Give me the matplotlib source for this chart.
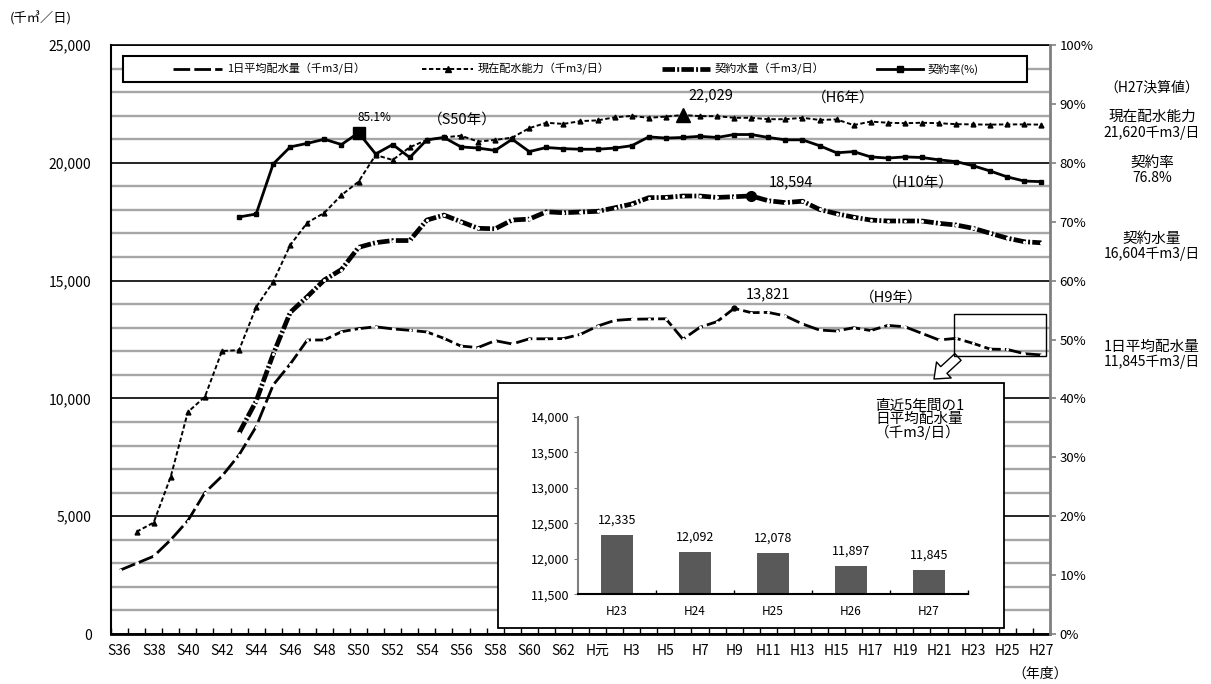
import numpy as np
import matplotlib
matplotlib.use("Agg")
import matplotlib.pyplot as plt
from matplotlib.patches import Rectangle
from matplotlib.lines import Line2D
from matplotlib.ticker import FuncFormatter, MultipleLocator

plt.rcParams['font.family'] = ['Noto Sans CJK JP', 'DejaVu Sans']
plt.rcParams['lines.scale_dashes'] = False

nan = np.nan

# 年度 S36(1961) ～ H27(2015)
years = [f"S{n}" for n in range(36, 64)] + ["H元"] + [f"H{n}" for n in range(2, 28)]

# 1日平均配水量（千m3/日）
avg_flow = [2700, 3000, 3300, 4000, 4810, 6000, 6700, 7600, 8800, 10570,
            11460, 12480, 12480, 12830, 12960, 13040, 12950, 12890, 12820, 12550,
            12220, 12160, 12450, 12310, 12530, 12530, 12540, 12720, 13070, 13310,
            13360, 13370, 13380, 12510, 13020, 13260, 13821, 13640, 13650, 13500,
            13160, 12900, 12860, 13000, 12880, 13100, 13040, 12760, 12480, 12550,
            12335, 12092, 12078, 11897, 11845]

# 現在配水能力（千m3/日）
capacity = [nan, 4340, 4730, 6680, 9420, 10070, 12010, 12050, 13870, 14950,
            16510, 17460, 17880, 18630, 19200, 20330, 20120, 20660, 20970, 21080,
            21150, 20900, 20970, 21070, 21470, 21700, 21650, 21770, 21800, 21930,
            21990, 21910, 21960, 22029, 21980, 21980, 21910, 21910, 21850, 21850,
            21910, 21820, 21840, 21600, 21750, 21700, 21680, 21700, 21680, 21640,
            21630, 21620, 21630, 21630, 21620]

# 契約水量（千m3/日）
contract = [nan, nan, nan, nan, nan, nan, nan, 8530, 9880, 11880,
            13650, 14320, 15030, 15470, 16410, 16610, 16700, 16700, 17570, 17780,
            17500, 17220, 17200, 17570, 17610, 17920, 17880, 17910, 17940, 18090,
            18250, 18520, 18530, 18590, 18590, 18530, 18560, 18594, 18390, 18310,
            18370, 18020, 17840, 17690, 17570, 17530, 17530, 17530, 17430, 17360,
            17220, 17010, 16800, 16650, 16604]

# 契約率（%）
rate = [nan, nan, nan, nan, nan, nan, nan, 70.8, 71.3, 79.8,
        82.7, 83.3, 84.0, 83.1, 85.1, 81.5, 83.1, 80.9, 83.9, 84.3,
        82.7, 82.5, 82.1, 84.0, 81.9, 82.6, 82.4, 82.3, 82.3, 82.5,
        82.9, 84.4, 84.2, 84.3, 84.5, 84.3, 84.8, 84.8, 84.3, 83.9,
        83.9, 82.9, 81.7, 81.9, 81.0, 80.8, 81.0, 80.9, 80.5, 80.2,
        79.5, 78.6, 77.6, 76.9, 76.8]

# 直近5年間の1日平均配水量
recent_years = ["H23", "H24", "H25", "H26", "H27"]
recent_flow = [12335, 12092, 12078, 11897, 11845]

W, H = 1211, 684


def fx(px):
    return px / W


def fy(py):
    return 1 - py / H


fig = plt.figure(figsize=(W / 100, H / 100), dpi=100)
ax = fig.add_axes([fx(111), fy(634), fx(1050) - fx(111), fy(45) - fy(634)])
ax2 = ax.twinx()

x = np.arange(len(years))

# 系列のスタイル
st_avg = dict(color='black', lw=2.0, dashes=(12, 3), marker='o', ms=2.2,
              mfc='white', mec='white', mew=0)
st_cap = dict(color='black', lw=1.4, dashes=(3.2, 1.8), marker='^', ms=3.5,
              mfc='black', mec='black')
st_con = dict(color='black', lw=3.4, dashes=(9, 1.6, 1.4, 1.6), marker='o', ms=2.2,
              mfc='white', mec='white', mew=0)
st_rate = dict(color='black', lw=2.0, linestyle='-', marker='s', ms=3.2,
               mfc='black', mec='black')

ax.plot(x, avg_flow, zorder=4, **st_avg)
ax.plot(x, capacity, zorder=4, **st_cap)
ax.plot(x, contract, zorder=4, **st_con)
ax2.plot(x, rate, zorder=4, **st_rate)

# 最大値の強調
i_rate, i_cap, i_con, i_avg = 14, 33, 37, 36
ax2.plot(i_rate, rate[i_rate], 's', ms=9, color='black', zorder=5)
ax.plot(i_cap, capacity[i_cap], '^', ms=10, color='black', zorder=5)
ax.plot(i_con, contract[i_con], 'o', ms=7, color='black', zorder=5)
ax.plot(i_avg, avg_flow[i_avg], 'o', ms=3.5, color='black', zorder=5)

ax2.annotate(f"{rate[i_rate]}%", (i_rate, rate[i_rate]), xytext=(16, 15),
             textcoords='offset pixels', ha='center', va='center', fontsize=8.5)
ax.annotate(f"{capacity[i_cap]:,}", (i_cap, capacity[i_cap]), xytext=(28, 20),
            textcoords='offset pixels', ha='center', va='center', fontsize=10.5)
ax.annotate(f"{contract[i_con]:,}", (i_con, contract[i_con]), xytext=(40, 14),
            textcoords='offset pixels', ha='center', va='center', fontsize=10.5)
ax.annotate(f"{avg_flow[i_avg]:,}", (i_avg, avg_flow[i_avg]), xytext=(34, 14),
            textcoords='offset pixels', ha='center', va='center', fontsize=10.5)

for txt, px, py in [("（S50年）", 462, 120), ("（H6年）", 843, 98),
                    ("（H10年）", 918, 183), ("（H9年）", 891, 298)]:
    fig.text(fx(px), fy(py), txt, ha='center', va='center', fontsize=10.5)

# 軸・目盛
ax.set_xlim(-0.5, len(years) - 0.5)
ax.set_ylim(0, 25000)
ax2.set_ylim(0, 100)

ax.yaxis.set_major_locator(MultipleLocator(5000))
ax.yaxis.set_minor_locator(MultipleLocator(1000))
ax.yaxis.set_major_formatter(FuncFormatter(lambda v, p: f"{int(v):,}"))
ax.grid(axis='y', which='minor', color='#a6a6a6', lw=1.7)
ax.grid(axis='y', which='major', color='black', lw=1.2)
ax.set_axisbelow(True)
ax.tick_params(axis='y', which='both', length=0, labelsize=10, pad=14)

ax.set_xticks(x[::2])
ax.set_xticklabels(years[::2])
ax.set_xticks(np.arange(-0.5, len(years)), minor=True)
ax.tick_params(axis='x', which='major', length=0, labelsize=10, pad=7)
ax.tick_params(axis='x', which='minor', direction='in', length=4, width=1)

ax2.yaxis.set_major_locator(MultipleLocator(10))
ax2.yaxis.set_major_formatter(FuncFormatter(lambda v, p: f"{int(v)}%"))
ax2.tick_params(axis='y', length=4, width=1.2, color='#808080', labelsize=9.5, pad=3)

for s in ['left', 'top', 'bottom']:
    ax2.spines[s].set_visible(False)
ax.spines['right'].set_visible(False)
ax2.spines['right'].set_color('#808080')
ax2.spines['right'].set_linewidth(2)
ax.spines['left'].set_linewidth(1.5)
ax.spines['top'].set_linewidth(1.2)
ax.spines['bottom'].set_linewidth(2)

fig.text(fx(10), fy(18), "(千㎥／日)", ha='left', va='center', fontsize=9.5)
fig.text(fx(1040), fy(674), "（年度）", ha='center', va='center', fontsize=10)

# 凡例
fig.add_artist(Rectangle((fx(123), fy(82)), fx(1027) - fx(123), fy(56) - fy(82),
                         transform=fig.transFigure, facecolor='white',
                         edgecolor='black', lw=1.5, zorder=1))
legend_items = [(173, 222, "1日平均配水量（千m3/日）", st_avg),
                (422, 473, "現在配水能力（千m3/日）", st_cap),
                (662, 710, "契約水量（千m3/日）", st_con),
                (877, 923, "契約率(%)", st_rate)]
for x0, x1, label, st in legend_items:
    kw = {k: v for k, v in st.items() if not k.startswith('m')}
    fig.add_artist(Line2D([fx(x0), fx(x1)], [fy(69), fy(69)],
                          transform=fig.transFigure, zorder=2, **kw))
    if st is st_cap or st is st_rate:
        fig.add_artist(Line2D([fx((x0 + x1) / 2)], [fy(69)], transform=fig.transFigure,
                              linestyle='none', marker=st['marker'], ms=4,
                              color='black', zorder=2))
    fig.text(fx(x1 + 5), fy(69), label, ha='left', va='center', fontsize=8, zorder=3)

# H27決算値
right_labels = [("（H27決算値）", 88, 10),
                ("現在配水能力", 117, 10.5), (f"{capacity[-1]:,}千m3/日", 133, 10),
                ("契約率", 163, 10.5), (f"{rate[-1]}%", 178, 10),
                ("契約水量", 239, 10.5), (f"{contract[-1]:,}千m3/日", 254, 10),
                ("1日平均配水量", 347, 10.5), (f"{avg_flow[-1]:,}千m3/日", 362, 10)]
for txt, py, fs in right_labels:
    fig.text(fx(1152), fy(py), txt, ha='center', va='center', fontsize=fs)

# 直近5年の範囲と矢印
ax.add_patch(Rectangle((48.88, 11800), 5.36, 1780, fill=False, edgecolor='black',
                       lw=1, zorder=6))
ax.annotate('', xy=(934, H - 379), xytext=(958, H - 357), xycoords='figure pixels',
            textcoords='figure pixels', annotation_clip=False,
            arrowprops=dict(arrowstyle='simple,head_length=0.8,head_width=1.3,tail_width=0.55',
                            fc='white', ec='black', lw=1, mutation_scale=12,
                            shrinkA=0, shrinkB=0))

# 直近5年間の棒グラフ
fig.add_artist(Rectangle((fx(498), fy(628)), fx(1004) - fx(498), fy(383) - fy(628),
                         transform=fig.transFigure, facecolor='white',
                         edgecolor='black', lw=1.3, zorder=1))
ins = fig.add_axes([fx(578), fy(594.3), fx(968) - fx(578), fy(416.7) - fy(594.3)])
ins.set_zorder(3)
ins.patch.set_alpha(0)
xi = np.arange(len(recent_years))
bars = ins.bar(xi, recent_flow, width=0.4, color='#595959')
for b, v in zip(bars, recent_flow):
    ins.annotate(f"{v:,}", (b.get_x() + b.get_width() / 2, v), xytext=(0, 6),
                 textcoords='offset points', ha='center', va='bottom', fontsize=9)
ins.set_xlim(-0.5, len(recent_years) - 0.5)
ins.set_ylim(11500, 14000)
ins.yaxis.set_major_locator(MultipleLocator(500))
ins.yaxis.set_major_formatter(FuncFormatter(lambda v, p: f"{int(v):,}"))
ins.set_xticks(xi)
ins.set_xticklabels(recent_years)
ins.set_xticks(np.arange(0.5, len(recent_years)), minor=True)
ins.tick_params(axis='x', which='major', length=0, labelsize=8.5, pad=8)
ins.tick_params(axis='x', which='minor', direction='in', length=3, width=1)
ins.tick_params(axis='y', length=3, color='#808080', labelsize=9, pad=3)
ins.spines['top'].set_visible(False)
ins.spines['right'].set_visible(False)
ins.spines['left'].set_color('#808080')
ins.spines['left'].set_linewidth(1.5)
ins.spines['bottom'].set_linewidth(1.5)

fig.text(fx(875), fy(399), "直近5年間の1\n日平均配水量\n（千m3/日）", ha='left', va='top',
         fontsize=10.5, linespacing=0.9, zorder=4)

fig.savefig("out.png", dpi=100)
